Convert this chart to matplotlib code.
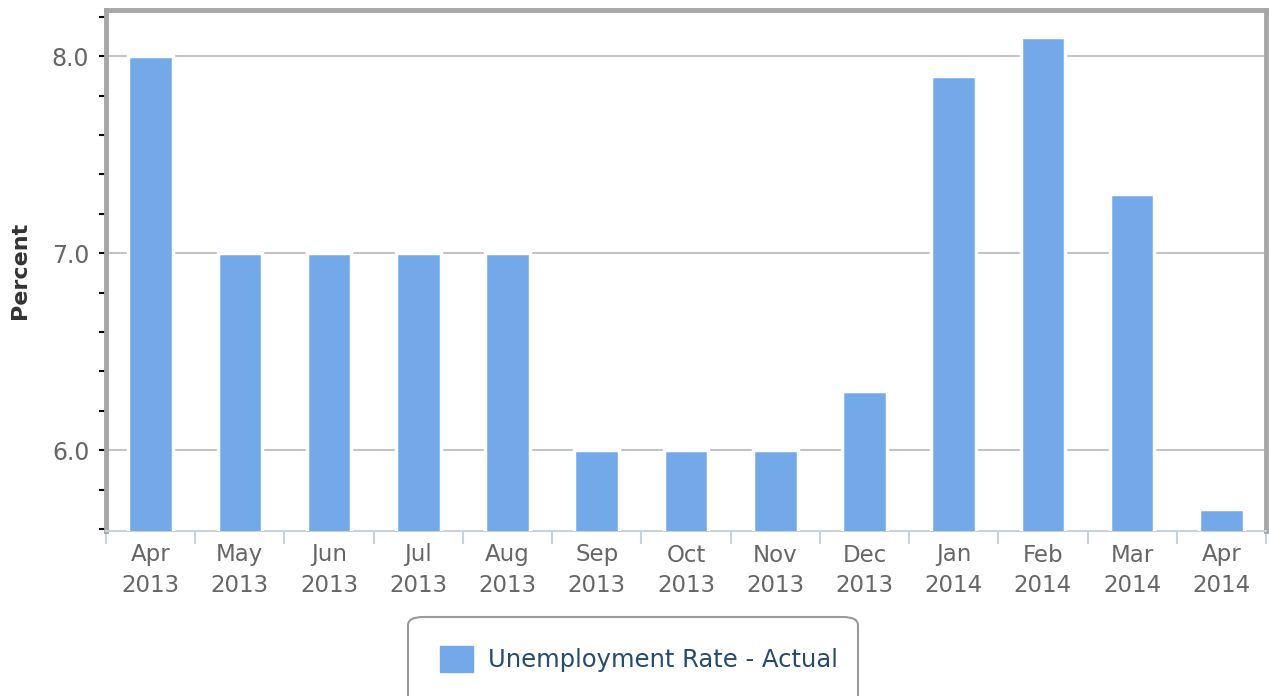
import numpy as np
import matplotlib
matplotlib.use("Agg")
import matplotlib.pyplot as plt
from matplotlib.patches import FancyBboxPatch, Patch

# data
months = ["Apr\n2013", "May\n2013", "Jun\n2013", "Jul\n2013", "Aug\n2013", "Sep\n2013",
          "Oct\n2013", "Nov\n2013", "Dec\n2013", "Jan\n2014", "Feb\n2014", "Mar\n2014",
          "Apr\n2014"]
rates = [8.0, 7.0, 7.0, 7.0, 7.0, 6.0, 6.0, 6.0, 6.3, 7.9, 8.1, 7.3, 5.7]
series_name = "Unemployment Rate - Actual"

bar_color = "#73a9e8"
label_color = "#666666"

fig = plt.figure(figsize=(12.69, 6.96), dpi=100)
ax = fig.add_axes([106 / 1269, 1 - 531 / 696, 1160 / 1269, 521 / 696])

x = np.arange(len(months))
ax.bar(x, rates, width=0.5, color=bar_color, edgecolor="white", linewidth=2.5, zorder=3)

ax.set_xlim(-0.5, len(months) - 0.5)
ax.set_ylim(5.59, 8.235)

# y axis
ax.set_yticks([6.0, 7.0, 8.0])
ax.set_yticklabels(["6.0", "7.0", "8.0"])
ax.set_yticks(np.arange(5.6, 8.3, 0.2), minor=True)
ax.tick_params(axis="y", which="both", direction="out", length=5, width=1.5,
               color="black", labelsize=17, labelcolor=label_color, pad=7)
ax.yaxis.grid(True, which="major", color="#c4c4c4", linewidth=1.5, zorder=1)
ax.set_ylabel("Percent", fontsize=16, fontweight="bold", color="#333333")
ax.yaxis.set_label_coords(-76 / 1160, 0.5)

# x axis
ax.set_xticks(x)
ax.set_xticklabels(months, linespacing=1.4)
ax.set_xticks(np.arange(-0.5, len(months), 1.0), minor=True)
ax.tick_params(axis="x", which="major", length=0, labelsize=16.5, labelcolor=label_color, pad=9)
ax.tick_params(axis="x", which="minor", length=9, width=1.5, color="#c8d2dc")

for side in ["left", "top", "right"]:
    ax.spines[side].set_color("#a6a6a6")
    ax.spines[side].set_linewidth(3.5)
ax.spines["bottom"].set_color("#c8d2dc")
ax.spines["bottom"].set_linewidth(1.5)

# legend with a rounded box
box = FancyBboxPatch((408 / 1269, -0.05), 450 / 1269, (0.05 + 1 - 617 / 696),
                     boxstyle="round,pad=0,rounding_size=0.012",
                     transform=fig.transFigure, facecolor="white",
                     edgecolor="#9a9a9a", linewidth=1.5)
fig.patches.append(box)
handle = Patch(facecolor=bar_color, edgecolor=bar_color)
fig.legend([handle], [series_name], loc="center left",
           bbox_to_anchor=(421 / 1269, 1 - 659 / 696), frameon=False,
           fontsize=17.5, labelcolor="#274b6d", handlelength=1.35, handleheight=1.25,
           handletextpad=0.6, borderpad=0.3)

fig.savefig("out.png", dpi=100)
